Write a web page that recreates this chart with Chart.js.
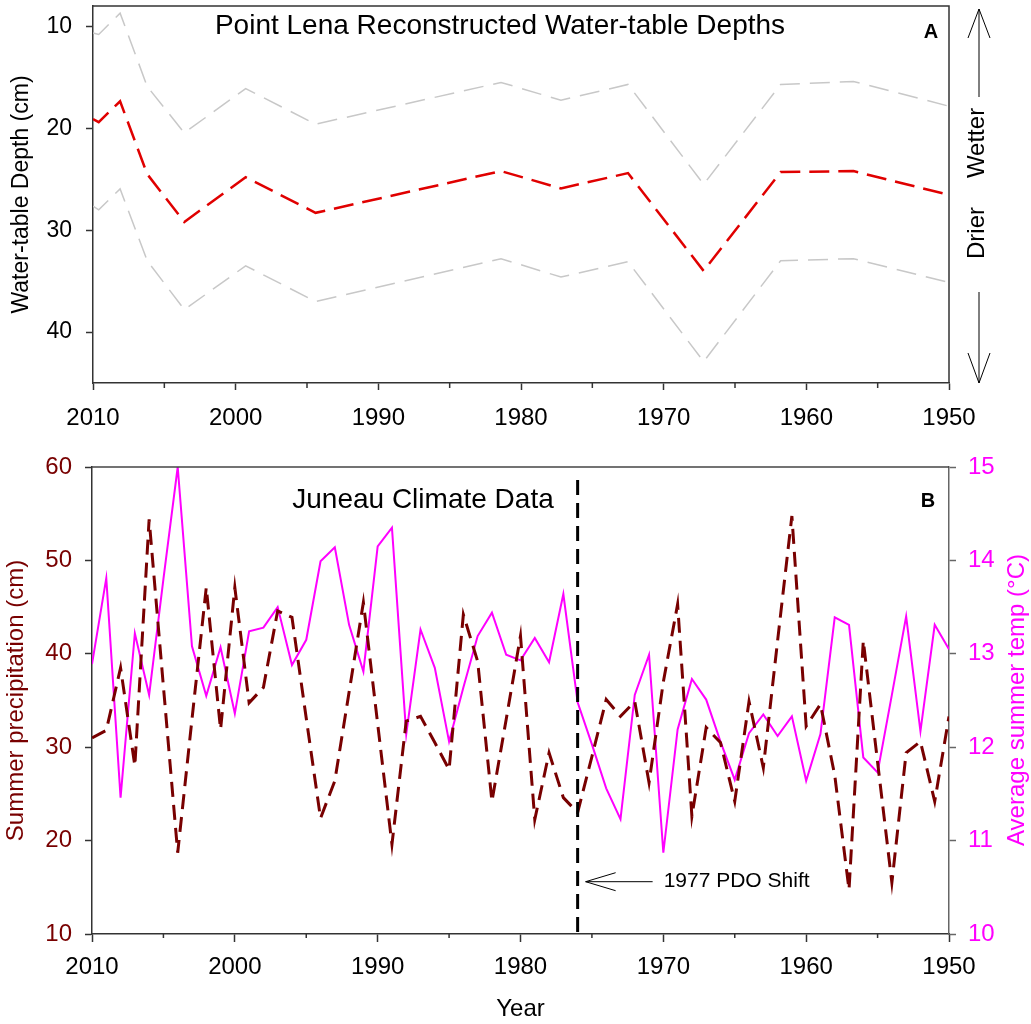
<!DOCTYPE html>
<html>
<head>
<meta charset="utf-8">
<script src="https://cdn.jsdelivr.net/npm/chart.js@4.4.0/dist/chart.umd.min.js"></script>
<style>
    body { margin: 0; background: #fff; }
    #painelTopo { position: absolute; left: 0; top: 0; }
    #painelClima { position: absolute; left: 0; top: 430px; }
</style>
</head>
<body>
<canvas id="painelTopo" width="1031" height="430"></canvas>
<canvas id="painelClima" width="1031" height="594"></canvas>
<script>
// painel A - profundidade do lencol (Point Lena)
var anosWT = [2010, 2009.6, 2008.1, 2006.2, 2003.6, 1999.3, 1994.4, 1981.4, 1977.2, 1972.5, 1967.2, 1961.8, 1956.7, 1950.1]
var mediaWT = [19.1, 19.4, 17.35, 24.5, 29.2, 24.8, 28.3, 24.2, 25.9, 24.4, 34.0, 24.3, 24.2, 26.5]
var superiorWT = [10.65, 10.8, 8.7, 15.9, 20.45, 16.1, 19.6, 15.5, 17.25, 15.7, 25.5, 15.7, 15.4, 17.8]
var inferiorWT = [27.65, 28.0, 25.95, 33.0, 37.8, 33.5, 37.0, 32.8, 34.6, 33.1, 42.9, 33.0, 32.8, 35.1]
var ticksProfundidade = [10, 20, 30, 40]

// painel B - dados climaticos de Juneau
var anos = [2010, 2009, 2008, 2007, 2006, 2005, 2004, 2003, 2002, 2001,
            2000, 1999, 1998, 1997, 1996, 1995, 1994, 1993, 1992, 1991,
            1990, 1989, 1988, 1987, 1986, 1985, 1984, 1983, 1982, 1981,
            1980, 1979, 1978, 1977, 1976, 1975, 1974, 1973, 1972, 1971,
            1970, 1969, 1968, 1967, 1966, 1965, 1964, 1963, 1962, 1961,
            1960, 1959, 1958, 1957, 1956, 1955, 1954, 1953, 1952, 1951, 1950]
var precipitacao = [31.0, 31.8, 38.5, 28.0, 54.4, 36.5, 18.7, 33.0, 47.1, 31.9,
                    47.1, 34.75, 36.4, 44.6, 43.9, 33.1, 22.4, 26.4, 35.9, 45.5,
                    32.5, 19.6, 32.8, 33.3, 30.5, 27.6, 44.2, 39.2, 24.2, 33.0,
                    41.9, 22.25, 29.4, 24.6, 23.0, 29.0, 35.1, 33.3, 34.9, 26.2,
                    37.0, 45.3, 22.6, 32.1, 30.5, 24.2, 34.9, 27.8, 41.4, 54.75,
                    32.25, 34.6, 27.0, 14.75, 41.4, 28.4, 15.5, 29.4, 30.6, 24.2, 33.3]
var temperatura = [12.89, 13.81, 11.46, 13.22, 12.56, 13.8, 15.0, 13.08, 12.55, 13.07,
                   12.36, 13.24, 13.28, 13.5, 12.88, 13.15, 13.99, 14.14, 13.31, 12.81,
                   14.15, 14.35, 12.14, 13.26, 12.85, 12.06, 12.64, 13.19, 13.44, 12.99,
                   12.93, 13.17, 12.91, 13.64, 12.48, 12.03, 11.56, 11.23, 12.56, 12.99,
                   10.87, 12.19, 12.73, 12.51, 12.06, 11.65, 12.15, 12.35, 12.12, 12.33,
                   11.64, 12.14, 13.39, 13.31, 11.89, 11.73, 12.56, 13.40, 12.17, 13.31, 13.05]
var anoPDO = 1976
var linhaPDO = [58.6, 10]

var ticksAnos = [2010, 2000, 1990, 1980, 1970, 1960, 1950]
var ticksMenores = [2005, 1995, 1985, 1975, 1965, 1955]

var fonte = '"Liberation Sans", Arial, sans-serif'
var vinho = '#780000'
var magenta = '#ff00ff'

function pontos(xs, ys){
    var lista = []
    for (let i = 0; i < xs.length; i++) {
        lista.push({x: xs[i], y: ys[i]})
    }
    return lista
}

// tira o espaco extra que o chart.js reserva pros rotulos das pontas
function semSobra(scale){
    scale.paddingTop = 0
    scale.paddingBottom = 0
    scale.paddingLeft = 0
    scale.paddingRight = 0
}

function eixoAnos(altura, comprimento, espaco){
    return {
        type: 'linear',
        min: 1950,
        max: 2010,
        reverse: true,
        afterBuildTicks: function(scale){
            scale.ticks = ticksAnos.map(v => ({value: v}))
        },
        afterFit: function(scale){
            scale.height = altura
            semSobra(scale)
        },
        ticks: {
            color: '#000',
            font: {family: fonte, size: 24},
            padding: espaco,
            maxRotation: 0,
            autoSkip: false,
            callback: v => String(v)
        },
        grid: {drawOnChartArea: false, tickLength: comprimento, color: '#333', tickColor: '#333', tickWidth: 1.5},
        border: {color: '#333', width: 1.5}
    }
}

function desenharMenores(chart, tamanho){
    var ctx = chart.ctx
    var escala = chart.scales.x
    var base = chart.chartArea.bottom
    ctx.save()
    ctx.strokeStyle = '#333'
    ctx.lineWidth = 1.5
    for (let i = 0; i < ticksMenores.length; i++) {
        let px = escala.getPixelForValue(ticksMenores[i])
        ctx.beginPath()
        ctx.moveTo(px, base)
        ctx.lineTo(px, base + tamanho)
        ctx.stroke()
    }
    ctx.restore()
}

function textoVertical(ctx, texto, x, y, cor, tamanho){
    ctx.save()
    ctx.translate(x, y)
    ctx.rotate(-Math.PI / 2)
    ctx.fillStyle = cor
    ctx.font = tamanho + 'px ' + fonte
    ctx.textAlign = 'center'
    ctx.textBaseline = 'middle'
    ctx.fillText(texto, 0, 0)
    ctx.restore()
}

var extrasTopo = {
    id: 'extrasTopo',
    afterDraw: function(chart){
        var ctx = chart.ctx
        var area = chart.chartArea
        ctx.save()
        ctx.strokeStyle = '#333'
        ctx.lineWidth = 1.5
        ctx.beginPath()
        ctx.moveTo(area.left, area.top)
        ctx.lineTo(area.right, area.top)
        ctx.lineTo(area.right, area.bottom)
        ctx.stroke()

        ctx.fillStyle = '#000'
        ctx.textAlign = 'center'
        ctx.textBaseline = 'alphabetic'
        ctx.font = '28px ' + fonte
        ctx.fillText('Point Lena Reconstructed Water-table Depths', 500, 34)
        ctx.font = 'bold 20px ' + fonte
        ctx.fillText('A', 931, 38)

        // setas Wetter / Drier
        var xs = 979
        ctx.strokeStyle = '#000'
        ctx.lineWidth = 1
        ctx.beginPath()
        ctx.moveTo(xs, 97); ctx.lineTo(xs, 9)
        ctx.moveTo(xs - 11, 38); ctx.lineTo(xs, 9); ctx.lineTo(xs + 11, 38)
        ctx.moveTo(xs, 292); ctx.lineTo(xs, 383)
        ctx.moveTo(xs - 11, 353); ctx.lineTo(xs, 383); ctx.lineTo(xs + 11, 353)
        ctx.stroke()
        ctx.restore()
        textoVertical(ctx, 'Wetter', 977, 143, '#000', 24)
        textoVertical(ctx, 'Drier', 977, 233, '#000', 24)

        desenharMenores(chart, 5)
    }
}

var extrasClima = {
    id: 'extrasClima',
    afterDraw: function(chart){
        var ctx = chart.ctx
        var area = chart.chartArea
        ctx.save()
        ctx.strokeStyle = '#444'
        ctx.lineWidth = 1.5
        ctx.beginPath()
        ctx.moveTo(area.left, area.top)
        ctx.lineTo(area.right, area.top)
        ctx.stroke()

        ctx.fillStyle = '#000'
        ctx.textAlign = 'center'
        ctx.textBaseline = 'alphabetic'
        ctx.font = '28px ' + fonte
        ctx.fillText('Juneau Climate Data', 423, 78)
        ctx.font = 'bold 20px ' + fonte
        ctx.fillText('B', 928, 77)

        // seta do PDO
        var ponta = chart.scales.x.getPixelForValue(anoPDO) + 8
        var yy = chart.scales.y.getPixelForValue(15.6)
        ctx.strokeStyle = '#000'
        ctx.lineWidth = 1
        ctx.beginPath()
        ctx.moveTo(ponta, yy); ctx.lineTo(ponta + 67, yy)
        ctx.moveTo(ponta + 30, yy - 9); ctx.lineTo(ponta, yy); ctx.lineTo(ponta + 30, yy + 9)
        ctx.stroke()
        ctx.textAlign = 'left'
        ctx.textBaseline = 'middle'
        ctx.font = '21px ' + fonte
        ctx.fillText('1977 PDO Shift', ponta + 78, yy)
        ctx.restore()

        textoVertical(ctx, 'Average summer temp (\u00B0C)', 1017, 270, magenta, 24)
        desenharMenores(chart, 4)
    }
}

var graficoTopo = new Chart(document.getElementById('painelTopo'), {
    type: 'line',
    data: {
        datasets: [{
            data: pontos(anosWT, mediaWT),
            borderColor: '#e00000',
            borderWidth: 2.5,
            borderDash: [20, 9],
            pointRadius: 0,
            tension: 0
        }, {
            data: pontos(anosWT, superiorWT),
            borderColor: '#c8c8c8',
            borderWidth: 1.5,
            borderDash: [20, 10],
            pointRadius: 0,
            tension: 0
        }, {
            data: pontos(anosWT, inferiorWT),
            borderColor: '#c8c8c8',
            borderWidth: 1.5,
            borderDash: [20, 10],
            pointRadius: 0,
            tension: 0
        }]
    },
    options: {
        responsive: false,
        animation: false,
        layout: {padding: {top: 6, right: 82, left: 0, bottom: 0}},
        plugins: {
            legend: {display: false},
            tooltip: {enabled: false}
        },
        scales: {
            x: eixoAnos(47, 7, 14),
            y: {
                reverse: true,
                min: 8,
                max: 45,
                afterBuildTicks: function(scale){
                    scale.ticks = ticksProfundidade.map(v => ({value: v}))
                },
                afterFit: function(scale){
                    scale.width = 93
                    semSobra(scale)
                },
                ticks: {color: '#000', font: {family: fonte, size: 23}, padding: 14},
                grid: {drawOnChartArea: false, tickLength: 7, color: '#333', tickColor: '#333', tickWidth: 1.5},
                border: {color: '#333', width: 1.5},
                title: {
                    display: true,
                    text: 'Water-table Depth (cm)',
                    color: '#000',
                    font: {family: fonte, size: 23},
                    padding: {top: 8, bottom: 0}
                }
            }
        }
    },
    plugins: [extrasTopo]
});

var graficoClima = new Chart(document.getElementById('painelClima'), {
    type: 'line',
    data: {
        datasets: [{
            data: pontos([anoPDO, anoPDO], linhaPDO),
            yAxisID: 'y',
            borderColor: '#000',
            borderWidth: 3,
            borderDash: [15, 8],
            pointRadius: 0,
            order: 0
        }, {
            data: pontos(anos, precipitacao),
            yAxisID: 'y',
            borderColor: vinho,
            borderWidth: 3,
            borderDash: [15, 8],
            pointRadius: 0,
            tension: 0,
            order: 1
        }, {
            data: pontos(anos, temperatura),
            yAxisID: 'y1',
            borderColor: magenta,
            borderWidth: 2,
            pointRadius: 0,
            tension: 0,
            order: 2
        }]
    },
    options: {
        responsive: false,
        animation: false,
        layout: {padding: {top: 37, right: 0, left: 0, bottom: 0}},
        plugins: {
            legend: {display: false},
            tooltip: {enabled: false}
        },
        scales: {
            x: Object.assign(eixoAnos(90, 8, 11), {
                title: {
                    display: true,
                    text: 'Year',
                    color: '#000',
                    font: {family: fonte, size: 24},
                    padding: {top: 0, bottom: 0}
                }
            }),
            y: {
                position: 'left',
                min: 10,
                max: 60,
                ticks: {stepSize: 10, color: vinho, font: {family: fonte, size: 24}, padding: 13},
                afterFit: function(scale){
                    scale.width = 92
                    semSobra(scale)
                },
                grid: {drawOnChartArea: false, tickLength: 7, color: '#333', tickColor: '#333', tickWidth: 1.5},
                border: {color: '#333', width: 1.5},
                title: {
                    display: true,
                    text: 'Summer precipitation (cm)',
                    color: vinho,
                    font: {family: fonte, size: 24},
                    padding: {top: 2, bottom: 0}
                }
            },
            y1: {
                position: 'right',
                min: 10,
                max: 15,
                ticks: {stepSize: 1, color: magenta, font: {family: fonte, size: 24}, padding: 12},
                afterFit: function(scale){
                    scale.width = 82
                    semSobra(scale)
                },
                grid: {drawOnChartArea: false, tickLength: 7, color: '#666', tickColor: '#666', tickWidth: 1.5},
                border: {color: '#666', width: 1.5}
            }
        }
    },
    plugins: [extrasClima]
});
</script>
</body>
</html>
